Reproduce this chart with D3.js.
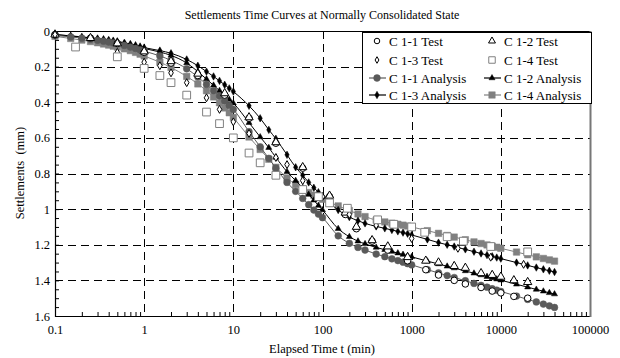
<!DOCTYPE html>
<html><head><meta charset="utf-8">
<script src="https://cdn.jsdelivr.net/npm/d3@7"></script>
<style>
body{margin:0;background:#fff;}
svg text{font-family:"Liberation Serif","Times New Roman",Times,"DejaVu Serif",serif !important;fill:#000;}
</style></head>
<body><svg id="c" width="620" height="358" font-family="Liberation Serif, Times New Roman, serif"></svg>
<script>
// ---------- data ----------
const xTickLabels = [0.1, 1, 10, 100, 1000, 10000, 100000];
const yTickLabels = [0, 0.2, 0.4, 0.6, 0.8, 1, 1.2, 1.4, 1.6];
const seriesNames = ["C 1-1 Test","C 1-2 Test","C 1-3 Test","C 1-4 Test",
                     "C 1-1 Analysis","C 1-2 Analysis","C 1-3 Analysis","C 1-4 Analysis"];

// test measurements
const t11Test = [0.1,0.25,0.5,1,2,4,8,15,30,60,120,180,240,360,540,900,1440,2000,3000,4000,6000,8000,10000,14000,20000];
const s11Test = [0.02,0.04,0.07,0.12,0.18,0.25,0.36,0.49,0.63,0.77,0.93,1.03,1.11,1.18,1.23,1.29,1.34,1.37,1.40,1.42,1.44,1.46,1.47,1.49,1.50];
const t12Test = [0.1,0.25,0.5,1,2,4,8,15,30,60,120,180,240,360,540,900,1440,2000,3000,4000,6000,8000,10000,14000,20000];
const s12Test = [0.02,0.04,0.07,0.115,0.17,0.24,0.35,0.485,0.625,0.765,0.925,1.02,1.10,1.175,1.21,1.27,1.29,1.30,1.32,1.33,1.36,1.37,1.38,1.40,1.41];
const t13Test = [0.1,0.5,1,1.5,2,3,5,7,10,15,30,40,60,100,200,400,1000,3300,7700,18000];
const s13Test = [0.02,0.12,0.175,0.195,0.235,0.29,0.375,0.44,0.51,0.575,0.71,0.75,0.84,0.93,1.03,1.09,1.165,1.22,1.27,1.31];
const t14Test = [0.17,0.5,1,1.5,2,3,5,7,10,15,20,30,60,90,120,190,415,630,1000,1400,2500,3800,7700,20000];
const s14Test = [0.09,0.145,0.21,0.25,0.29,0.36,0.455,0.52,0.60,0.685,0.74,0.81,0.89,0.93,0.965,0.995,1.06,1.085,1.10,1.13,1.155,1.18,1.21,1.24];

// analysis (model) times and settlements
const tAnalysis = [0.1,0.15,0.2,0.25,0.3,0.35,0.4,0.45,0.5,0.6,0.7,0.8,0.9,
  1,1.5,2,3,4,5,6,7,8,9,
  10,15,20,25,30,40,50,60,70,80,90,
  100,150,200,250,300,400,500,600,700,800,900,
  1000,1500,2000,2500,3000,4000,5000,6000,7000,8000,9000,
  10000,15000,20000,25000,30000,35000,40000];
const s11Analysis = [0.025,0.033,0.040,0.046,0.052,0.057,0.062,0.067,0.072,0.081,0.090,0.098,0.106,
  0.113,0.140,0.165,0.212,0.258,0.300,0.335,0.365,0.393,0.418,
  0.440,0.565,0.650,0.715,0.770,0.850,0.900,0.940,0.975,1.005,1.028,
  1.048,1.150,1.192,1.215,1.230,1.252,1.267,1.279,1.289,1.298,1.306,
  1.313,1.340,1.358,1.373,1.384,1.402,1.417,1.428,1.438,1.447,1.455,
  1.462,1.488,1.507,1.521,1.533,1.543,1.552];
const s12Analysis = [0.020,0.028,0.035,0.040,0.045,0.050,0.054,0.058,0.062,0.070,0.078,0.085,0.092,
  0.098,0.118,0.137,0.180,0.228,0.270,0.305,0.335,0.362,0.385,
  0.405,0.515,0.595,0.655,0.710,0.790,0.840,0.880,0.918,0.950,0.980,
  1.005,1.110,1.155,1.180,1.195,1.215,1.228,1.238,1.247,1.255,1.262,
  1.268,1.292,1.308,1.321,1.331,1.347,1.360,1.370,1.379,1.387,1.393,
  1.399,1.422,1.438,1.451,1.461,1.470,1.477];
const s13Analysis = [0.020,0.027,0.033,0.038,0.042,0.046,0.050,0.054,0.058,0.066,0.073,0.080,0.087,
  0.093,0.110,0.125,0.160,0.195,0.228,0.255,0.280,0.302,0.322,
  0.340,0.420,0.490,0.555,0.605,0.695,0.765,0.810,0.850,0.880,0.905,
  0.928,1.005,1.045,1.065,1.080,1.097,1.108,1.117,1.125,1.132,1.138,
  1.145,1.170,1.188,1.200,1.210,1.226,1.239,1.249,1.258,1.265,1.272,
  1.278,1.300,1.316,1.328,1.338,1.346,1.353];
const s14Analysis = [0.030,0.042,0.051,0.059,0.066,0.073,0.079,0.085,0.090,0.100,0.110,0.120,0.130,
  0.140,0.175,0.205,0.255,0.297,0.335,0.370,0.403,0.432,0.459,
  0.485,0.595,0.665,0.720,0.765,0.825,0.862,0.888,0.907,0.922,0.935,
  0.945,0.982,1.008,1.027,1.042,1.062,1.072,1.079,1.085,1.090,1.095,
  1.100,1.121,1.136,1.148,1.157,1.172,1.184,1.193,1.201,1.208,1.214,
  1.220,1.241,1.256,1.268,1.277,1.285,1.292];

// ---------- chart ----------
const FONT = "Liberation Serif, Times New Roman, Times, serif";
const svg = d3.select("#c");
const x = d3.scaleLog().domain([0.1, 100000]).range([55, 590]);
const y = d3.scaleLinear().domain([0, 1.6]).range([31, 316]);
const [x0, x1] = x.range(), [y0, y1] = y.range();

const zip = (t, s) => t.map((d, i) => ({t: d, s: s[i]}));

svg.append("text").attr("x", 322).attr("y", 19).attr("text-anchor", "middle").attr("font-family", FONT)
  .style("font-size", "12px").text("Settlements Time Curves at Normally Consolidated State");

// gridlines
const grid = svg.append("g").attr("stroke", "#000").attr("stroke-width", 1).attr("stroke-dasharray", "8,5");
grid.selectAll("line.h").data(yTickLabels.filter(d => d > 0 && d < 1.6)).join("line")
  .attr("x1", x0).attr("x2", x1).attr("y1", d => Math.round(y(d)) + 0.5).attr("y2", d => Math.round(y(d)) + 0.5);
grid.selectAll("line.v").data(xTickLabels.filter(d => d > 0.1 && d < 100000)).join("line")
  .attr("y1", y0).attr("y2", y1).attr("x1", d => Math.round(x(d)) + 0.5).attr("x2", d => Math.round(x(d)) + 0.5);

// minor ticks
const yMinor = d3.range(0, 1.6001, 0.05);
svg.append("g").attr("transform", `translate(${x0},0)`)
  .call(d3.axisLeft(y).tickValues(yMinor).tickSize(-4).tickFormat(""))
  .call(g => g.select(".domain").remove());
const xMinor = [];
for (let e = -1; e < 5; e++) for (let k = 2; k <= 9; k++) xMinor.push(k * Math.pow(10, e));
svg.append("g").attr("transform", `translate(0,${y1})`)
  .call(d3.axisBottom(x).tickValues(xMinor).tickSize(-4).tickFormat(""))
  .call(g => g.select(".domain").remove());

// labelled axes
svg.append("g").attr("transform", `translate(${x0},0)`)
  .call(d3.axisLeft(y).tickValues(yTickLabels).tickSize(0).tickPadding(5).tickFormat(d => String(+d.toFixed(1))))
  .attr("font-family", FONT)
  .call(g => g.select(".domain").remove())
  .call(g => g.selectAll("text").style("font-size", "12.5px"));
svg.append("g").attr("transform", `translate(0,${y1})`)
  .call(d3.axisBottom(x).tickValues(xTickLabels).tickSize(0).tickPadding(9).tickFormat(d => String(d)))
  .attr("font-family", FONT)
  .call(g => g.select(".domain").remove())
  .call(g => g.selectAll("text").style("font-size", "12.5px"));

// frame
svg.append("path").attr("fill", "none").attr("stroke", "#000").attr("stroke-width", 1.2)
  .attr("d", `M${x1},${y0 + 0.5}H${x0 + 0.5}V${y1 + 0.5}H${x1}`);
svg.append("line").attr("x1", x1 + 0.5).attr("x2", x1 + 0.5).attr("y1", y0).attr("y2", y1 + 1)
  .attr("stroke", "#777").attr("stroke-width", 2);

svg.append("text").attr("x", 322).attr("y", 353).attr("text-anchor", "middle").attr("font-family", FONT)
  .style("font-size", "12.5px").text("Elapsed Time t (min)");
svg.append("text").attr("transform", "translate(24,173) rotate(-90)").attr("text-anchor", "middle").attr("font-family", FONT)
  .style("font-size", "12.5px").style("white-space", "pre").text("Settlements  (mm)");

// series styles
const styles = [
  {sym: d3.symbolCircle,  size: 34, fill: "#fff", stroke: "#000", line: false},
  {sym: d3.symbolTriangle,size: 30, fill: "#fff", stroke: "#000", line: false},
  {sym: d3.symbolDiamond, size: 18, fill: "#fff", stroke: "#000", line: false},
  {sym: d3.symbolSquare,  size: 60, fill: "#fff", stroke: "#808080", line: false},
  {sym: d3.symbolCircle,  size: 36, fill: "#5a5a5a", stroke: "#5a5a5a", line: true},
  {sym: d3.symbolTriangle,size: 16, fill: "#000", stroke: "#000", line: true},
  {sym: d3.symbolDiamond, size: 16, fill: "#000", stroke: "#000", line: true},
  {sym: d3.symbolSquare,  size: 42, fill: "#808080", stroke: "#808080", line: true}
];
const data = [zip(t11Test, s11Test), zip(t12Test, s12Test), zip(t13Test, s13Test), zip(t14Test, s14Test),
  zip(tAnalysis, s11Analysis), zip(tAnalysis, s12Analysis), zip(tAnalysis, s13Analysis), zip(tAnalysis, s14Analysis)];

const plot = svg.append("g");
const lineGen = d3.line().x(d => x(d.t)).y(d => y(d.s)).curve(d3.curveMonotoneX);
const order = [7, 6, 5, 4, 0, 1, 2, 3];
order.forEach(i => {
  const st = styles[i], g = plot.append("g");
  if (st.line) g.append("path").datum(data[i]).attr("fill", "none").attr("stroke", st.stroke).attr("stroke-width", 1).attr("d", lineGen);
  g.selectAll("path.m").data(data[i]).join("path").attr("class", "m")
    .attr("transform", d => `translate(${x(d.t)},${y(d.s)})`)
    .attr("d", d3.symbol().type(st.sym).size(st.size))
    .attr("fill", st.fill).attr("stroke", st.stroke).attr("stroke-width", st.line ? 0.5 : 1);
});

// legend
const lg = svg.append("g");
lg.append("rect").attr("x", 362.5).attr("y", 32.5).attr("width", 229).attr("height", 71)
  .attr("fill", "#fff").attr("stroke", "#000").attr("stroke-width", 1);
const rowsY = [41, 60, 78, 95];
seriesNames.forEach((name, i) => {
  const col = i % 2, row = Math.floor(i / 2), st = styles[i];
  const mx = col === 0 ? 377 : 492, ty = rowsY[row];
  if (st.line) lg.append("line").attr("x1", mx - 8).attr("x2", mx + 9).attr("y1", ty).attr("y2", ty)
    .attr("stroke", st.stroke).attr("stroke-width", 1.2);
  lg.append("path").attr("transform", `translate(${mx},${ty})`)
    .attr("d", d3.symbol().type(st.sym).size(st.line ? st.size : st.size * 0.7))
    .attr("fill", st.fill).attr("stroke", st.stroke).attr("stroke-width", st.line ? 0.5 : 1);
  lg.append("text").attr("x", mx + 12).attr("y", ty + 4.5).attr("font-family", FONT)
    .style("font-size", "13px").text(name);
});
</script></body></html>
